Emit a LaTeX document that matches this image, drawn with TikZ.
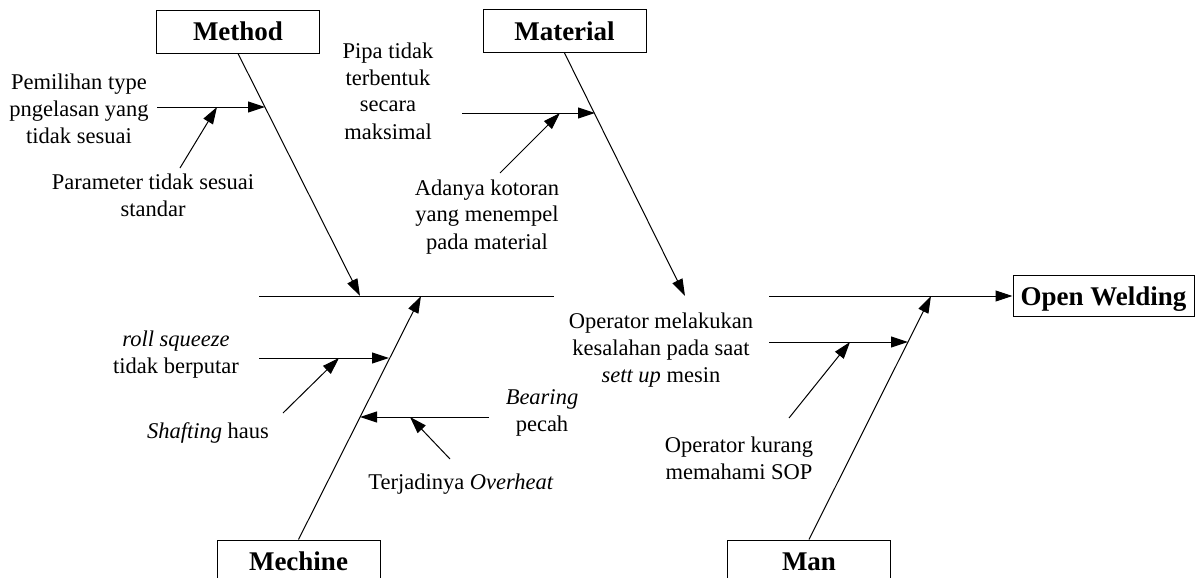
\documentclass[tikz,border=0pt]{standalone}
\usepackage{fontspec}
\setmainfont{Liberation Serif}
\usetikzlibrary{arrows.meta}
\begin{document}
\begin{tikzpicture}[x=0.5pt,y=-0.5pt,
  line width=0.5pt,
  arr/.style={-{Triangle[length=8.5pt,width=5.5pt]}},
  cat/.style={draw, line width=0.5pt, minimum width=81.5pt, minimum height=21.5pt, inner sep=0pt,
    font=\fontsize{13.5}{16}\selectfont\bfseries, text height=9.1pt, text depth=0pt},
  lbl/.style={align=center, inner sep=0pt, anchor=base, font=\fontsize{11.25}{13.5}\selectfont}]
\useasboundingbox (0,0) rectangle (1196,578);

% category boxes
\node[cat] (method) at (238,31.5) {Method};
\node[cat] (material) at (564.5,31) {Material};
\node[cat] (mechine) at (298.5,561.5) {Mechine};
\node[cat] (man) at (809,561.5) {Man};
\node[cat, minimum width=90.5pt, minimum height=20.5pt] (ow) at (1103.5,296) {Open Welding};

% labels (anchor = baseline of the last line)
\node[lbl] (t1) at (79,143) {Pemilihan type\\pngelasan yang\\tidak sesuai};
\node[lbl] (t2) at (153,216) {Parameter tidak sesuai\\standar};
\node[lbl] (t3) at (388,139) {Pipa tidak\\terbentuk\\secara\\maksimal};
\node[lbl] (t4) at (487,249) {Adanya kotoran\\yang menempel\\pada material};
\node[lbl] (t5) at (661,382) {Operator melakukan\\kesalahan pada saat\\\textit{sett up} mesin};
\node[lbl] (t6) at (176,373) {\textit{roll squeeze}\\tidak berputar};
\node[lbl] (t7) at (208,438) {\textit{Shafting} haus};
\node[lbl] (t8) at (542,431) {\textit{Bearing}\\pecah};
\node[lbl] (t9) at (461,489) {Terjadinya \textit{Overheat}};
\node[lbl] (t10) at (739,479) {Operator kurang\\memahami SOP};

% spine
\coordinate (sL) at (259,296);
\coordinate (sR) at (554,296);
\coordinate (sR2) at (769,296);
\draw (sL) -- (sR);
\draw[arr] (sR2) -- (ow.west);

% bones
\coordinate (jM) at (360,296);
\coordinate (jMat) at (685,296);
\coordinate (jMe) at (421,296);
\coordinate (jMan) at (931,296);
\draw[arr] (method.south) -- (jM);
\draw[arr] (material.south) -- (jMat);
\draw[arr] (mechine.north) -- (jMe);
\draw[arr] (man.north) -- (jMan);

% branches
\coordinate (p1a) at (157,107); \coordinate (p1b) at (265,107);
\coordinate (p2a) at (180,168); \coordinate (p2b) at (217,107);
\coordinate (p3a) at (462,113); \coordinate (p3b) at (595,113);
\coordinate (p4a) at (500,173); \coordinate (p4b) at (560,113);
\coordinate (p5a) at (769,342); \coordinate (p5b) at (908,342);
\coordinate (p6a) at (789,418); \coordinate (p6b) at (850,342);
\coordinate (p7a) at (259,358); \coordinate (p7b) at (389,358);
\coordinate (p8a) at (283,413); \coordinate (p8b) at (339,358);
\coordinate (p9a) at (489,417); \coordinate (p9b) at (360,417);
\coordinate (p10a) at (450,459); \coordinate (p10b) at (410,417);
\draw[arr] (p1a) -- (p1b);
\draw[arr] (p2a) -- (p2b);
\draw[arr] (p3a) -- (p3b);
\draw[arr] (p4a) -- (p4b);
\draw[arr] (p5a) -- (p5b);
\draw[arr] (p6a) -- (p6b);
\draw[arr] (p7a) -- (p7b);
\draw[arr] (p8a) -- (p8b);
\draw[arr] (p9a) -- (p9b);
\draw[arr] (p10a) -- (p10b);
\end{tikzpicture}
\end{document}
